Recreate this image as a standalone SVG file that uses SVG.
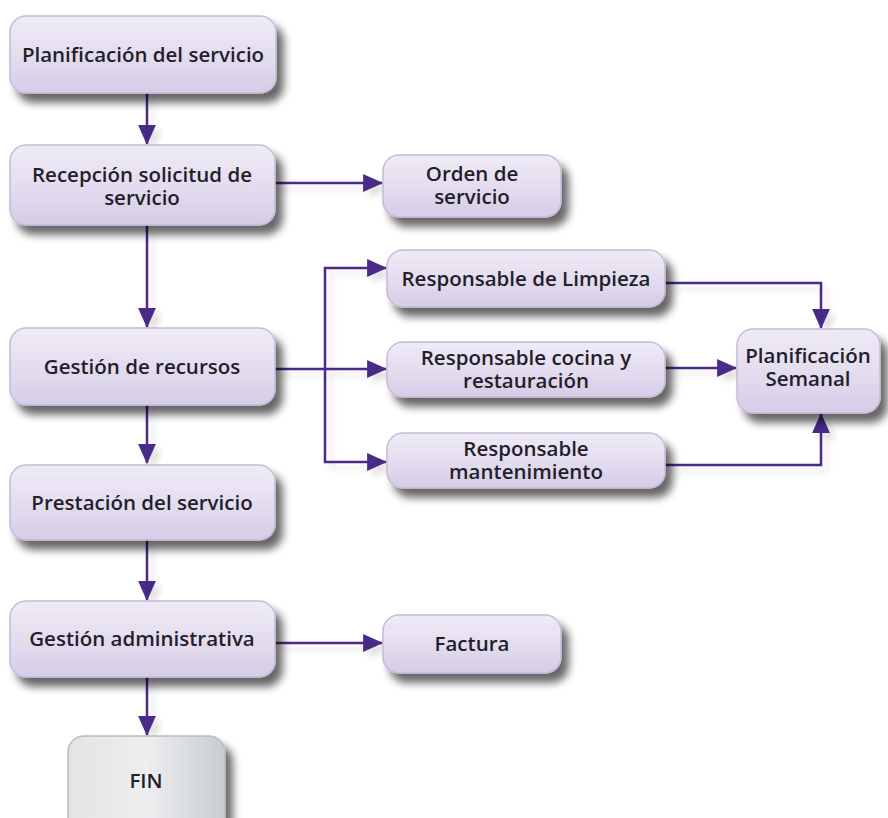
<svg xmlns="http://www.w3.org/2000/svg" width="888" height="818" viewBox="0 0 888 818">
<defs>
<linearGradient id="gP" x1="0" y1="0" x2="0" y2="1">
<stop offset="0" stop-color="#efebf6"/>
<stop offset="0.5" stop-color="#e4ddef"/>
<stop offset="1" stop-color="#d6cce6"/>
</linearGradient>
<linearGradient id="gG" x1="0" y1="0" x2="1" y2="0">
<stop offset="0" stop-color="#e2e4e6"/>
<stop offset="0.5" stop-color="#eceef0"/>
<stop offset="1" stop-color="#c9ccd0"/>
</linearGradient>
<filter id="sh" x="-20%" y="-30%" width="150%" height="180%">
<feGaussianBlur in="SourceAlpha" stdDeviation="4"/>
<feOffset dx="7" dy="9" result="b"/>
<feComponentTransfer><feFuncA type="linear" slope="0.6"/></feComponentTransfer>
<feMerge><feMergeNode/><feMergeNode in="SourceGraphic"/></feMerge>
</filter>
<filter id="lsh" x="-10%" y="-10%" width="130%" height="130%">
<feGaussianBlur in="SourceAlpha" stdDeviation="3"/>
<feOffset dx="6" dy="6"/>
<feComponentTransfer><feFuncA type="linear" slope="0.12"/></feComponentTransfer>
<feMerge><feMergeNode/><feMergeNode in="SourceGraphic"/></feMerge>
</filter>
<marker id="ah" markerUnits="userSpaceOnUse" markerWidth="20" markerHeight="20" viewBox="0 0 18 16" refX="17" refY="8" orient="auto">
<path d="M0,0 L18,8 L0,16 Z" fill="#4a2a88"/>
</marker>
</defs>
<style>
.b{fill:url(#gP);stroke:#c5bbd9;stroke-width:1.5;filter:url(#sh)}
.g{fill:url(#gG);stroke:#b9bcc0;stroke-width:1.5;filter:url(#sh)}
.t{font-family:"Open Sans","Liberation Sans",sans-serif;font-weight:600;font-size:20.5px;fill:#231f2a;text-anchor:middle}
.c{fill:none;stroke:#4a2a88;stroke-width:2.5}
.a{marker-end:url(#ah)}
</style>
<rect width="888" height="818" fill="#ffffff"/>
<g id="connectors" filter="url(#lsh)">
<path class="c a" d="M147,93 V144"/>
<path class="c a" d="M147,225 V327"/>
<path class="c a" d="M275,183 H382"/>
<path class="c a" d="M147,405 V463"/>
<path class="c a" d="M147,540 V600"/>
<path class="c a" d="M147,677 V735"/>
<path class="c a" d="M275,643 H382"/>
<path class="c a" d="M275,369 H386"/>
<path class="c a" d="M325,369 V268 H386"/>
<path class="c a" d="M325,369 V462 H386"/>
<path class="c a" d="M665,283 H821 V328"/>
<path class="c a" d="M665,368 H736"/>
<path class="c a" d="M665,465 H821 V414"/>
</g>
<g id="n1"><rect class="b" x="10" y="16" width="266" height="77" rx="16"/><text class="t" x="143" y="62">Planificación del servicio</text></g>
<g id="n2"><rect class="b" x="10" y="145" width="265" height="80" rx="16"/><text class="t" x="142" y="182">Recepción solicitud de</text><text class="t" x="142" y="205">servicio</text></g>
<g id="n3"><rect class="b" x="383" y="155" width="178" height="62" rx="16"/><text class="t" x="472" y="181">Orden de</text><text class="t" x="472" y="204">servicio</text></g>
<g id="n4"><rect class="b" x="10" y="328" width="265" height="77" rx="16"/><text class="t" x="142" y="374">Gestión de recursos</text></g>
<g id="n5"><rect class="b" x="387" y="250" width="278" height="57" rx="16"/><text class="t" x="526" y="286">Responsable de Limpieza</text></g>
<g id="n6"><rect class="b" x="387" y="342" width="278" height="55" rx="16"/><text class="t" x="526" y="365">Responsable cocina y</text><text class="t" x="526" y="388">restauración</text></g>
<g id="n7"><rect class="b" x="387" y="433" width="278" height="55" rx="16"/><text class="t" x="526" y="456">Responsable</text><text class="t" x="526" y="479">mantenimiento</text></g>
<g id="n8"><rect class="b" x="737" y="329" width="143" height="84" rx="16"/><text class="t" x="808" y="363">Planificación</text><text class="t" x="808" y="386">Semanal</text></g>
<g id="n9"><rect class="b" x="10" y="465" width="265" height="75" rx="16"/><text class="t" x="142" y="510">Prestación del servicio</text></g>
<g id="n10"><rect class="b" x="10" y="601" width="265" height="76" rx="16"/><text class="t" x="142" y="646">Gestión administrativa</text></g>
<g id="n11"><rect class="b" x="383" y="615" width="178" height="58" rx="16"/><text class="t" x="472" y="651">Factura</text></g>
<g id="n12"><rect class="g" x="68" y="736" width="157" height="100" rx="16"/><text class="t" x="146" y="788">FIN</text></g>
</svg>
